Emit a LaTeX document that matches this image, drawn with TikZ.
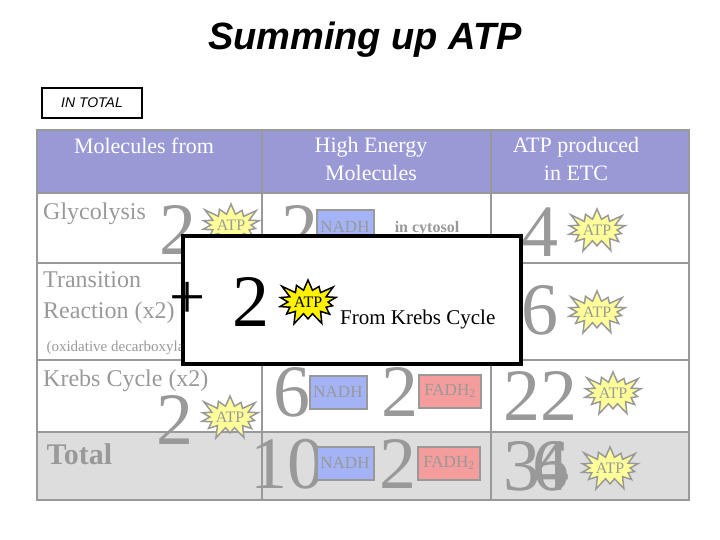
\documentclass[tikz,border=0pt]{standalone}
\usepackage{fontspec}
\setmainfont{Liberation Serif}
\newfontfamily\titlefont{Liberation Sans}
\usetikzlibrary{shapes.symbols}
\definecolor{hdr}{HTML}{9999D6}
\definecolor{gr}{HTML}{999999}
\definecolor{tot}{HTML}{DDDDDD}
\definecolor{nadh}{HTML}{A3B3F5}
\definecolor{fadh}{HTML}{F59C9C}
\definecolor{atpy}{HTML}{FFFF99}
\begin{document}
\begin{tikzpicture}[x=1pt,y=-1pt,
  cell/.style={draw=gr,line width=2.5pt},
  big/.style={text=gr,font=\fontsize{74}{74}\selectfont,inner sep=0pt},
  lbl/.style={text=gr,font=\fontsize{24}{31}\selectfont,inner sep=0pt,anchor=north west,align=left},
  hd/.style={text=white,font=\fontsize{22}{28}\selectfont,align=center},
  burst/.style={starburst,starburst points=14,starburst point height=14pt,minimum width=58pt,minimum height=50pt,fill=atpy,draw=gr,line width=1.5pt,text=gr,font=\fontsize{16}{16}\selectfont,inner sep=0pt},
  nbox/.style={fill=nadh,draw=gr,line width=2pt,text=gr,font=\fontsize{17}{17}\selectfont,minimum width=57pt,minimum height=33pt,inner sep=1pt},
  fbox/.style={fill=fadh,draw=gr,line width=2pt,text=gr,font=\fontsize{17}{17}\selectfont,minimum width=62pt,minimum height=33pt,inner sep=1pt}]
\useasboundingbox (0,0) rectangle (720,540);
\node[font=\titlefont\bfseries\itshape\fontsize{38}{38}\selectfont] (title) at (365,40) {Summing up ATP};
\node[draw,line width=1.5pt,minimum width=100pt,minimum height=30pt,font=\titlefont\itshape\fontsize{14}{14}\selectfont] (intotal) at (92,103) {IN TOTAL};
% table
\fill[hdr] (37,130) rectangle (689,193);
\fill[tot] (37,432) rectangle (689,500);
\draw[cell] (37,130) rectangle (689,500);
\foreach \yy in {193,263,360,432} \draw[cell] (37,\yy) -- (689,\yy);
\draw[cell] (262,130) -- (262,500);
\draw[cell] (491,130) -- (491,500);
\node[hd,anchor=north] (h1) at (144,134) {Molecules from};
\node[hd,anchor=north] (h2) at (371,134) {High Energy\\Molecules};
\node[hd,anchor=north] (h3) at (576,134) {ATP produced\\in ETC};
% row1
\node[lbl] (gly) at (43,203) {Glycolysis};
\node[big] (g2) at (178,230) {2};
\node[burst] (ga) at (231,225) {ATP};
\node[big] (n2) at (300,230) {2};
\node[nbox] (n2b) at (345,227) {NADH};
\node[text=gr,font=\bfseries\fontsize{16}{16}\selectfont] (cyt) at (427,229) {in cytosol};
\node[big] (e4) at (540,232) {4};
\node[burst] (ea) at (597,230) {ATP};
% row2
\node[lbl] (tr) at (43,271) {Transition\\Reaction (x2)};
\node[text=gr,font=\fontsize{15}{15}\selectfont,anchor=west] (ox) at (43,348) {(oxidative decarboxylation)};
\node[big] (e6) at (540,310) {6};
\node[burst] (eb) at (597,312) {ATP};
% row3
\node[lbl] (kr) at (43,370) {Krebs Cycle (x2)};
\node[big] (k2) at (175,420) {2};
\node[burst] (ka) at (230,417) {ATP};
\node[big] (k6) at (292,392) {6};
\node[nbox] (k6b) at (338,392) {NADH};
\node[big] (k2f) at (400,392) {2};
\node[fbox] (k2fb) at (450,391) {FADH\textsubscript{2}};
\node[big] (e22) at (540,396) {22};
\node[burst] (ec) at (613,393) {ATP};
% total
\node[text=gr,font=\bfseries\fontsize{30}{30}\selectfont,anchor=north west] (tt) at (43,440) {Total};
\node[big] (t10) at (287,464) {10};
\node[nbox] (t10b) at (345,463) {NADH};
\node[big] (t2) at (398,464) {2};
\node[fbox] (t2b) at (449,463) {FADH\textsubscript{2}};
\node[big] (t3) at (522,466) {3};
\node[big] (t4) at (551,466) {4};
\node[big] (t6) at (551,466) {6};
\node[burst] (td) at (610,468) {ATP};
% overlay
\draw[line width=4pt,fill=white] (183,236) rectangle (521,364);
\node[font=\fontsize{64}{64}\selectfont,inner sep=0pt] (plus) at (188,300) {+};
\node[font=\fontsize{74}{74}\selectfont,inner sep=0pt] (o2) at (251,302) {2};
\node[starburst,starburst points=14,starburst point height=14pt,minimum width=58pt,minimum height=52pt,fill=yellow,draw=black,line width=1.5pt,font=\fontsize{16}{16}\selectfont,inner sep=0pt] (oa) at (308,302) {ATP};
\node[font=\fontsize{21}{21}\selectfont,anchor=west,inner sep=0pt] (ok) at (340,319) {From Krebs Cycle};
\end{tikzpicture}
\end{document}
